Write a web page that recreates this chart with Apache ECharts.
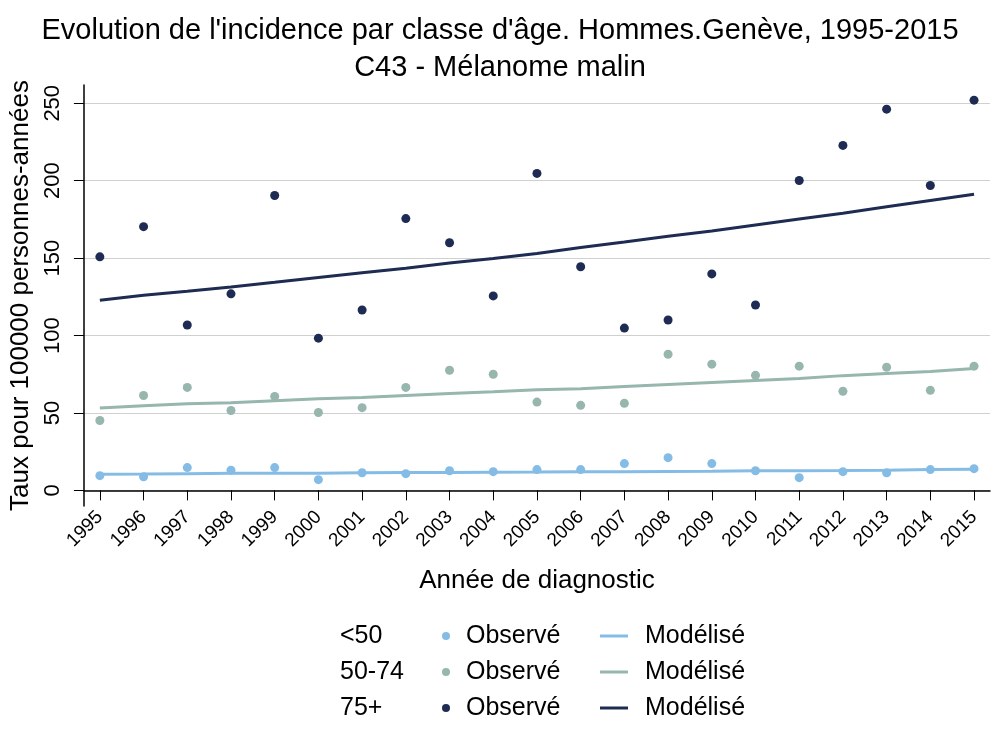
<!DOCTYPE html>
<html>
<head>
<meta charset="utf-8">
<script src="https://cdn.jsdelivr.net/npm/echarts@6/dist/echarts.min.js"></script>
</head>
<body style="margin:0;background:#fff;">
<div id="main" style="width:1000px;height:750px;"></div>
<script type="text/javascript">
// données
var annees = [1995, 1996, 1997, 1998, 1999, 2000, 2001, 2002, 2003, 2004, 2005,
              2006, 2007, 2008, 2009, 2010, 2011, 2012, 2013, 2014, 2015];
var obsMoins50 = [9.5, 8.8, 14.7, 13, 14.7, 6.9, 11.4, 10.8, 12.7, 12.1, 13.4,
                  13.4, 17.3, 21.1, 17.3, 12.7, 8.2, 12.1, 11.4, 13.4, 14];
var modMoins50 = [10.4, 10.5, 10.8, 11, 11, 11.1, 11.4, 11.5, 11.6, 11.7, 11.8,
                  12, 12.1, 12.2, 12.3, 12.6, 12.7, 12.8, 13, 13.4, 13.7];
var obs50_74 = [45.1, 61.3, 66.5, 51.6, 60.7, 50.3, 53.4, 66.5, 77.6, 75, 57,
                54.9, 56.2, 87.9, 81.5, 74.3, 80.2, 64, 79.5, 64.6, 80.2];
var mod50_74 = [53.2, 54.7, 56, 56.6, 57.9, 59.2, 59.9, 61.2, 62.5, 63.7, 65,
                65.7, 67, 68.3, 69.6, 70.9, 72.2, 74.1, 75.4, 76.7, 78.7];
var obs75 = [150.8, 170.3, 106.8, 126.9, 190.4, 98.3, 116.5, 175.5, 159.9, 125.6, 204.7,
             144.4, 104.8, 110, 139.8, 119.7, 200.1, 222.8, 246.2, 196.9, 252];
var mod75 = [122.8, 126, 128.6, 131.4, 134.4, 137.5, 140.5, 143.5, 146.8, 149.8, 153,
             156.9, 160.4, 164.1, 167.5, 171.4, 175.3, 179, 183.1, 187.2, 191.3];
var yTicks = [0, 50, 100, 150, 200, 250];
var classes = ['<50', '50-74', '75+'];

var couleurs = ['#85BCE5', '#97B6AE', '#1E2B52'];
var police = 'Liberation Sans, Arial, sans-serif';

function paires(vals) {
    var out = [];
    for (var i = 0; i < annees.length; i++) out.push([annees[i], vals[i]]);
    return out;
}

var obsList = [obsMoins50, obs50_74, obs75];
var modList = [modMoins50, mod50_74, mod75];
var rowY = [636, 672, 708];

var series = [];
var legends = [];
var graphics = [];
for (var k = 0; k < 3; k++) {
    series.push({
        name: 'obs' + k, type: 'scatter', symbol: 'circle', symbolSize: 9,
        itemStyle: { color: couleurs[k], opacity: 1 }, data: paires(obsList[k]), z: 3
    });
    series.push({
        name: 'mod' + k, type: 'line', showSymbol: false, symbol: 'none',
        lineStyle: { color: couleurs[k], width: 3 }, itemStyle: { color: couleurs[k] },
        data: paires(modList[k]), z: 2
    });
    legends.push({
        data: [{ name: 'obs' + k, icon: 'circle' }],
        left: 442, top: rowY[k] - 14, padding: 0,
        itemWidth: 30, itemHeight: 8, symbolKeepAspect: true,
        formatter: function () { return 'Observé'; },
        textStyle: { fontFamily: police, fontSize: 25, color: '#000', lineHeight: 28 }
    });
    legends.push({
        data: [{ name: 'mod' + k, icon: 'rect' }],
        left: 600, top: rowY[k] - 14, padding: 0,
        itemWidth: 28, itemHeight: 3,
        formatter: function () { return 'Modélisé'; },
        textStyle: { fontFamily: police, fontSize: 25, color: '#000', lineHeight: 28,
                     padding: [0, 0, 0, 12] }
    });
    graphics.push({
        type: 'text', left: 340, top: rowY[k] - 14,
        style: { text: classes[k], font: '25px ' + police, fill: '#000', lineHeight: 28 }
    });
}

var myChart = echarts.init(document.getElementById('main'));
myChart.setOption({
    backgroundColor: '#fff',
    animation: false,
    title: {
        text: "Evolution de l'incidence par classe d'âge. Hommes.Genève, 1995-2015\nC43 - Mélanome malin",
        left: 'center', top: 7,
        textStyle: { fontFamily: police, fontSize: 29, fontWeight: 'normal', color: '#000', lineHeight: 37 }
    },
    grid: { left: 82, right: 10, top: 85, bottom: 244 },
    xAxis: {
        type: 'value', min: 1994.635, max: 2015.365,
        name: 'Année de diagnostic', nameLocation: 'middle', nameGap: 62,
        nameTextStyle: { fontFamily: police, fontSize: 26, color: '#000' },
        axisLine: { show: true, lineStyle: { color: '#000', width: 1.5 } },
        axisTick: { show: true, length: 10, customValues: annees, lineStyle: { color: '#000' } },
        axisLabel: {
            customValues: annees, rotate: 45, fontFamily: police, fontSize: 19, color: '#000', margin: 8,
            formatter: function (v) { return String(v); }
        },
        splitLine: { show: false }
    },
    yAxis: {
        type: 'value', min: -10.1, max: 261.8,
        name: 'Taux pour 100000 personnes-années', nameLocation: 'middle', nameGap: 45,
        nameTextStyle: { fontFamily: police, fontSize: 26, color: '#000' },
        axisLine: { show: true, lineStyle: { color: '#000', width: 1.5 } },
        axisTick: { show: true, length: 10, customValues: yTicks, lineStyle: { color: '#000' } },
        axisLabel: {
            customValues: yTicks, rotate: 90, fontFamily: police, fontSize: 22, color: '#000', margin: 20
        },
        splitLine: { show: true, lineStyle: { color: '#d0d0d0', width: 1 } }
    },
    legend: legends,
    graphic: graphics,
    series: series
});
</script>
</body>
</html>
